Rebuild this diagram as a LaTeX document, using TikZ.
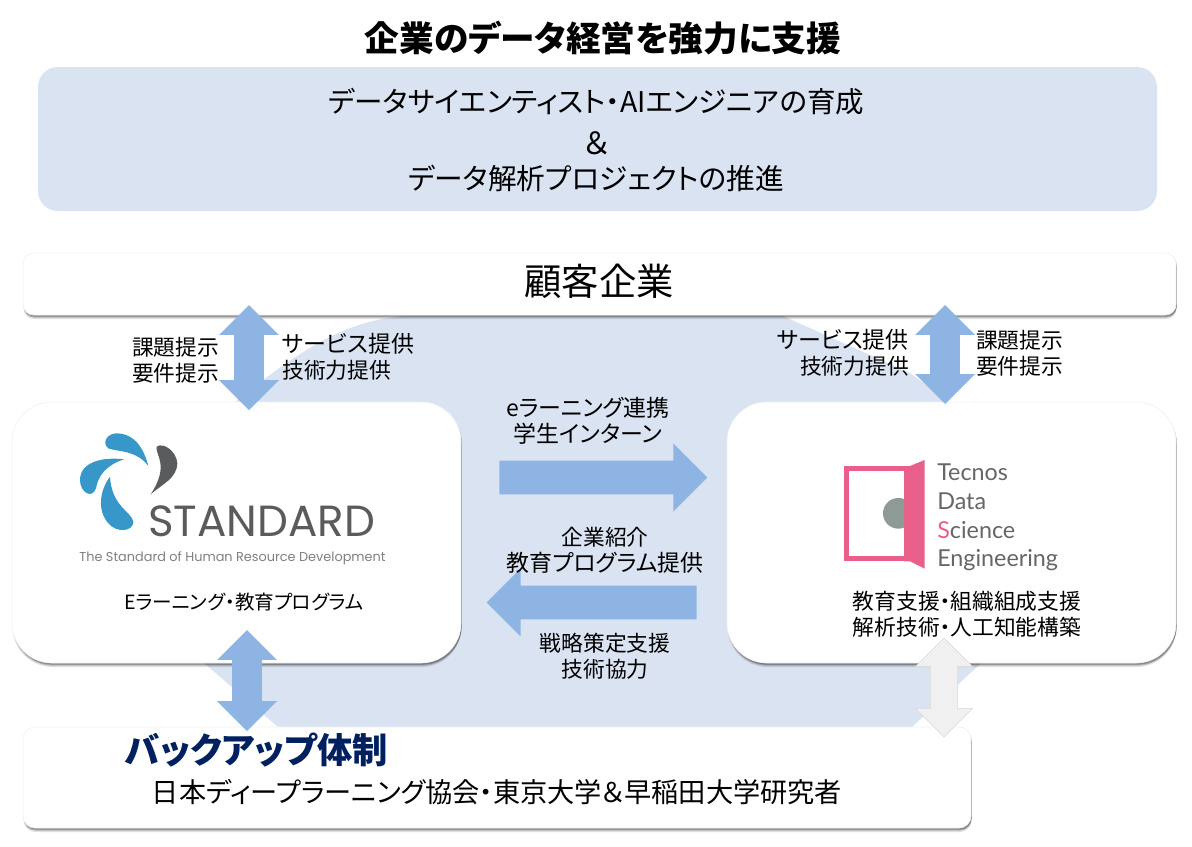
\documentclass[tikz,border=0pt]{standalone}
\usepackage{fontspec}
\setmainfont[RawFeature=+palt]{Noto Sans CJK JP}
\newfontfamily\standardfont{Poppins}
\newfontfamily\tecnosfont{Lato}
\usetikzlibrary{shapes.arrows,shadows}
\definecolor{bandblue}{HTML}{DAE3F1}
\definecolor{arrowblue}{HTML}{8EB4E3}
\definecolor{backupnavy}{HTML}{002060}
\definecolor{logoblue}{HTML}{3797C9}
\definecolor{logogray}{HTML}{595B5C}
\definecolor{doorpink}{HTML}{E8608A}
\definecolor{doorgray}{HTML}{8E9A95}
\newcommand{\kanaline}[1]{{\fontsize{17.2}{19.5}\selectfont #1}}
\tikzset{
  panel/.style={draw=black!5,line width=.5pt,fill=white,inner sep=0pt,
    drop shadow={shadow xshift=.4pt,shadow yshift=-3pt,fill=black,opacity=.12},
    drop shadow={shadow xshift=.6pt,shadow yshift=-2pt,fill=black,opacity=.2},
    drop shadow={shadow xshift=.6pt,shadow yshift=-1.2pt,fill=black,opacity=.25}},
  label/.style={inner sep=0pt,align=center,font=\fontsize{16.3}{19.5}\selectfont},
  tecnosline/.style={inner sep=0pt,anchor=west,text=black!60,font=\tecnosfont\fontsize{17.5}{22}\selectfont},
  updown/.style={double arrow,fill=arrowblue,inner sep=11pt,minimum height=#1,
    double arrow head extend=11.25pt,shape border rotate=90},
  sideways/.style={single arrow,fill=arrowblue,inner sep=12.4pt,minimum height=#1,
    single arrow head extend=12.75pt,anchor=tail}
}
\begin{document}
\begin{tikzpicture}[x=.75pt,y=-.75pt]
  \useasboundingbox (0,0) rectangle (1192,846);
  % backdrop
  \fill[bandblue] (225,410) -- (263,380) .. controls (310,345) and (350,320) .. (405,316)
    -- (783,316) -- (910,373) -- (960,410) -- (990,500) -- (990,655) -- (912,727)
    -- (278,727) -- (204,663) -- (204,500) -- cycle;
  % title and band
  \node[label,font=\fontsize{26}{30}\bfseries\selectfont] (title) at (603,38) {企業のデータ経営を強力に支援};
  \node[fill=bandblue,rounded corners=15pt,minimum width=839.25pt,minimum height=108pt,inner sep=0pt] (band) at (597.5,139) {};
  \node[label,font=\fontsize{21.4}{30}\selectfont] (goal1) at (596,102) {データサイエンティスト・AIエンジニアの育成};
  \node[label,font=\fontsize{23}{30}\selectfont] (amp) at (597,143) {＆};
  \node[label,font=\fontsize{21.5}{30}\selectfont] (goal2) at (596,178) {データ解析プロジェクトの推進};
  % panels
  \node[panel,rounded corners=8pt,minimum width=864.75pt,minimum height=46.5pt] (client) at (599.5,284) {};
  \node[panel,rounded corners=30pt,minimum width=336.75pt,minimum height=195.75pt] (standard) at (236.5,532.5) {};
  \node[panel,rounded corners=30pt,minimum width=336.75pt,minimum height=195.75pt] (tecnos) at (951.5,532.5) {};
  \node[panel,rounded corners=9pt,minimum width=711pt,minimum height=75.75pt] (backup) at (497,777.5) {};
  \node[label,font=\fontsize{28}{30}\selectfont] (clientname) at (599,281) {顧客企業};
  % standard logo
  \begin{scope}[shift={(0,400)},x=.25pt,y=-.25pt]
    \fill[logoblue] (445,198) .. controls (425,120) and (385,100) .. (350,100)
      .. controls (320,100) and (305,130) .. (325,145) .. controls (350,155) and (410,150) .. (445,198) -- cycle;
    \fill[logoblue] (372,178) .. controls (310,170) and (240,185) .. (240,240)
      .. controls (240,275) and (275,300) .. (288,265) .. controls (295,225) and (320,195) .. (372,178) -- cycle;
    \fill[logoblue] (330,230) .. controls (300,270) and (290,330) .. (325,370)
      .. controls (350,400) and (400,395) .. (400,365) .. controls (395,335) and (335,320) .. (330,230) -- cycle;
    \fill[logogray] (452,283) .. controls (490,250) and (530,235) .. (532,190)
      .. controls (530,155) and (490,125) .. (470,140) .. controls (465,165) and (510,195) .. (452,283) -- cycle;
  \end{scope}
  \node[label,text=logogray,font=\standardfont\fontsize{32.7}{36}\selectfont] (standardname) at (261.5,521) {STANDARD};
  \node[label,text=black!50,font=\standardfont\fontsize{9.65}{10}\selectfont] (standardtag) at (232.5,558) {The Standard of Human Resource Development};
  \node[label,font=\fontsize{14.7}{19.5}\selectfont] (standardtext) at (244,602) {Eラーニング・教育プログラム};
  % tecnos logo
  \begin{scope}[shift={(720,400)},x=.25pt,y=-.25pt]
    \fill[doorpink] (372,198) rectangle (570,484);
    \fill[white] (386,212) rectangle (553,468);
    \begin{scope}
      \clip (440,280) rectangle (553,400);
      \fill[doorgray] (535,340) circle [radius=46];
    \end{scope}
    \fill[doorpink] (553,198) -- (570,198) -- (614,180) -- (614,506) -- (570,484) -- (553,484) -- cycle;
  \end{scope}
  \node[tecnosline] (tecnos1) at (937,472) {Tecnos};
  \node[tecnosline] (tecnos2) at (937,501) {Data};
  \node[tecnosline] (tecnos3) at (937,530) {\textcolor{doorpink}{S}cience};
  \node[tecnosline] (tecnos4) at (937,560) {Engineering};
  \node[label] (tecnostext) at (967,614) {教育支援・組織組成支援\\解析技術・人工知能構築};
  % backup text
  \node[label,anchor=west,text=backupnavy,font=\fontsize{26.5}{28}\bfseries\selectfont] (backuphead) at (125,750) {バックアップ体制};
  \node[label,font=\fontsize{20.4}{24}\selectfont] (backuptext) at (497,792) {日本ディープラーニング協会・東京大学＆早稲田大学研究者};
  % arrows
  \node[updown=78.75pt] (leftup) at (249,357.5) {};
  \node[updown=74.25pt] (rightup) at (945,354.5) {};
  \node[updown=75.75pt] (leftdown) at (247,680.5) {};
  \node[updown=74.25pt,fill=black!6,draw=black!15,inner sep=10pt] (rightdown) at (944,687.5) {};
  \node[sideways=156pt] (toright) at (499,477.5) {};
  \node[sideways=157.5pt,shape border rotate=180] (toleft) at (697,602.5) {};
  % labels
  \node[label] (ask1) at (175.5,360) {課題提示\\要件提示};
  \node[label,align=left,anchor=west] (give1) at (282,357) {\kanaline{サービス提供}\\技術力提供};
  \node[label,align=right,anchor=east] (give2) at (909,353) {\kanaline{サービス提供}\\技術力提供};
  \node[label] (ask2) at (1019.5,353) {課題提示\\要件提示};
  \node[label] (deal1) at (588,421) {\kanaline{eラーニング連携}\\\kanaline{学生インターン}};
  \node[label] (deal2) at (605,550) {企業紹介\\\kanaline{教育プログラム提供}};
  \node[label] (deal3) at (605,656) {戦略策定支援\\技術協力};
\end{tikzpicture}
\end{document}
